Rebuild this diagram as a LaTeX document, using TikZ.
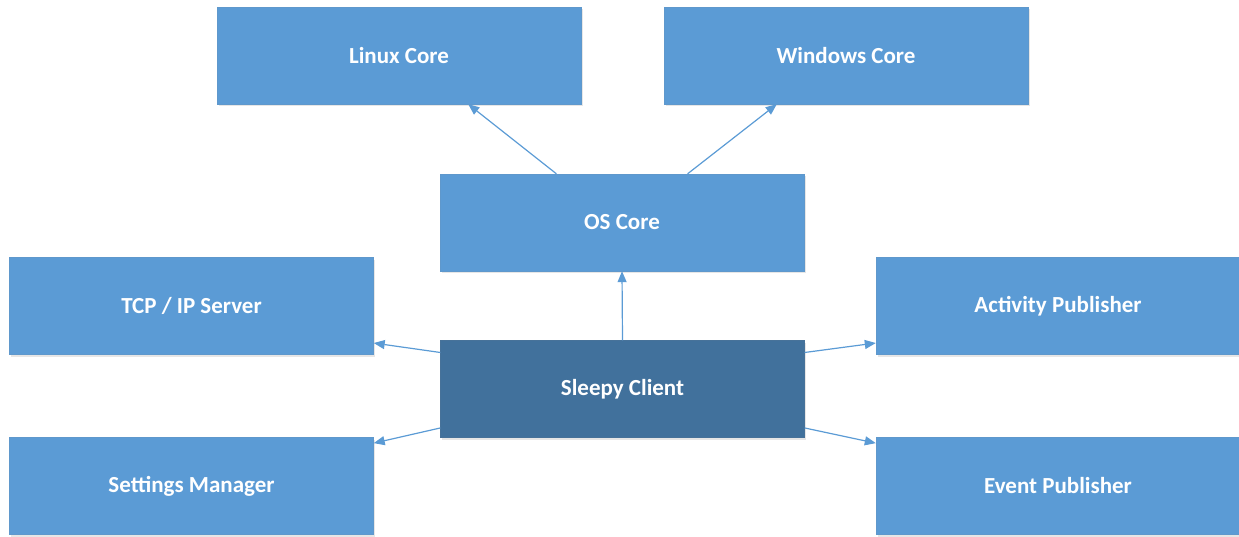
\documentclass[tikz,border=0pt]{standalone}
\usepackage{fontspec}
\setmainfont{Carlito}
\usetikzlibrary{calc,arrows.meta,shadows}
\definecolor{boxblue}{HTML}{5B9BD5}
\definecolor{darkblue}{HTML}{41719C}
\begin{document}
\begin{tikzpicture}[x=1pt,y=1pt,
  blockbox/.style={rectangle, fill=boxblue, draw=boxblue!90!gray, line width=0.4pt,
    minimum width=364pt, minimum height=97pt, inner sep=0pt,
    text=white, font=\fontsize{23}{27}\selectfont\bfseries,
    drop shadow={opacity=0.2, shadow xshift=1.5pt, shadow yshift=-2pt}},
  mainbox/.style={blockbox, fill=darkblue, draw=darkblue!90!gray},
  conn/.style={draw=boxblue, line width=1.2pt, -{Triangle[length=11pt,width=9pt]}}
]
\useasboundingbox (0,0) rectangle (1239,-536);
\node[blockbox] (linux) at (399,-55.5) {Linux Core};
\node[blockbox] (win) at (846,-55.5) {Windows Core};
\node[blockbox] (os) at (622,-222.5) {OS Core};
\node[blockbox] (tcp) at (191.5,-306) {TCP / IP Server};
\node[blockbox] (act) at (1058,-306) {Activity Publisher};
\node[mainbox] (sc) at (622.5,-389) {Sleepy Client};
\node[blockbox] (set) at (191.5,-486) {Settings Manager};
\node[blockbox] (evt) at (1058,-486) {Event Publisher};

\draw[conn] ($(os.north west)!0.32!(os.north east)$) -- ($(linux.south west)!0.69!(linux.south east)$);
\draw[conn] ($(os.north west)!0.68!(os.north east)$) -- ($(win.south west)!0.31!(win.south east)$);
\draw[conn] (sc.north) -- (os.south);
\draw[conn] ($(sc.north west)!0.125!(sc.south west)$) -- ($(tcp.north east)!0.88!(tcp.south east)$);
\draw[conn] ($(sc.north west)!0.9!(sc.south west)$) -- ($(set.north east)!0.06!(set.south east)$);
\draw[conn] ($(sc.north east)!0.125!(sc.south east)$) -- ($(act.north west)!0.88!(act.south west)$);
\draw[conn] ($(sc.north east)!0.9!(sc.south east)$) -- ($(evt.north west)!0.06!(evt.south west)$);
\end{tikzpicture}
\end{document}
